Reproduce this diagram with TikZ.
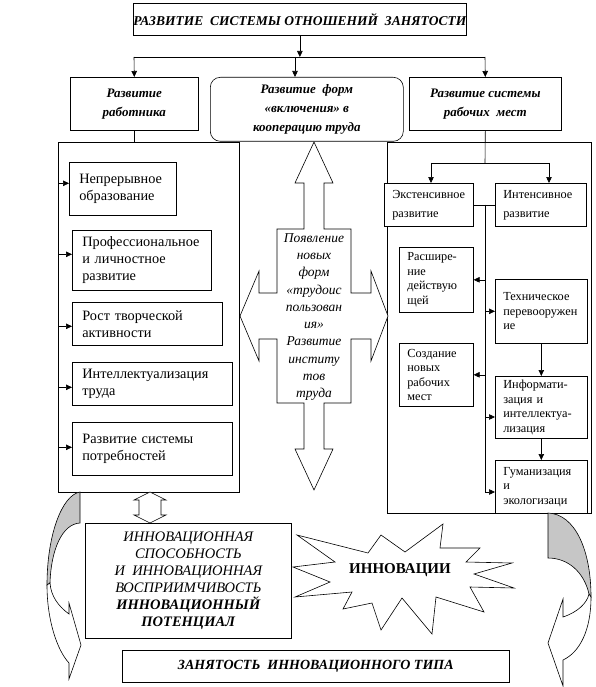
\documentclass[tikz,border=0pt]{standalone}
\usepackage{fontspec}
\setmainfont{Liberation Serif}
\usetikzlibrary{arrows.meta,calc}
\hyphenpenalty=10000
\exhyphenpenalty=10000
\newcommand{\fTtl}{\fontsize{13.5}{17}\selectfont\bfseries\itshape}
\newcommand{\fBot}{\fontsize{14}{17}\selectfont\bfseries\itshape}
\newcommand{\fHdr}{\fontsize{13}{19}\selectfont\bfseries\itshape}
\newcommand{\fLft}{\fontsize{14.3}{17}\selectfont}
\newcommand{\fRgt}{\fontsize{12.3}{14.5}\selectfont}
\newcommand{\fRgh}{\fontsize{12.3}{19}\selectfont}
\newcommand{\fCrs}{\fontsize{13.5}{17.3}\selectfont\itshape}
\newcommand{\fInn}{\fontsize{14.5}{17}\selectfont\itshape}
\newcommand{\fStr}{\fontsize{15}{18}\selectfont\bfseries}
\begin{document}
\begin{tikzpicture}[x=1pt,y=-1pt,line width=0.6pt,
  frame/.style={draw, anchor=north west, inner sep=0pt},
  cbox/.style={draw, fill=white, anchor=north west, align=center, inner sep=0pt},
  lbox/.style={draw, fill=white, anchor=north west, align=left, inner xsep=10pt, inner ysep=0pt},
  rbox/.style={draw, fill=white, anchor=north west, align=left, inner xsep=8pt, inner ysep=0pt},
  arr/.style={-{Triangle[length=6pt,width=5.5pt]}},
  blk/.style={draw, fill=white, line join=miter},
  shade/.style={draw, fill=gray!45}]
\useasboundingbox (0,0) rectangle (595,687);

% frames
\node[frame, minimum width=181pt, minimum height=350pt] (lf) at (58,142) {};
\node[frame, minimum width=204pt, minimum height=371pt] (rf) at (387,142) {};

% top
\node[cbox, minimum width=329pt, minimum height=32pt, font=\fTtl] (title) at (133,3) {РАЗВИТИЕ~ СИСТЕМЫ ОТНОШЕНИЙ~ ЗАНЯТОСТИ};
\node[cbox, minimum width=128pt, minimum height=53pt, font=\fHdr] (worker) at (70,77) {Развитие\\работника};
\node[cbox, minimum width=193pt, minimum height=64pt, rounded corners=10pt, font=\fHdr] (forms) at (210,77) {Развитие~ форм\\«включения» в\\кооперацию труда};
\node[cbox, minimum width=152pt, minimum height=53pt, font=\fHdr] (places) at (409,77) {Развитие системы\\рабочих~ мест};

\coordinate (hl) at (134,57);
\coordinate (hr) at (485,57);
\coordinate (hc) at (295,57);
\draw[arr] (title.south) -- (title.south |- hl);
\draw (hl) -- (hr);
\draw[arr] (hl) -- (worker.north);
\draw[arr] (hc) -- (hc |- forms.north);
\draw[arr] (hr) -- (places.north);
\draw (worker.south) -- (worker.south |- lf.north);

% left frame boxes
\node[lbox, text width=87pt, minimum height=53pt, font=\fLft] (L1) at (69,162) {Непрерывное\\образование};
\node[lbox, text width=119pt, minimum height=60pt, font=\fLft] (L2) at (72,230) {Профессиональное\\и личностное\\развитие};
\node[lbox, text width=130pt, minimum height=43pt, font=\fLft] (L3) at (72,302) {Рост творческой\\активности};
\node[lbox, text width=140pt, minimum height=43pt, font=\fLft] (L4) at (72,362) {Интеллектуализация\\труда};
\node[lbox, text width=140pt, minimum height=53pt, font=\fLft] (L5) at (72,422) {Развитие системы\\потребностей};
\draw[arr] (lf.west |- {$(L1.west)+(0,-5.5)$}) -- ($(L1.west)+(0,-5.5)$);
\draw[arr] (lf.west |- {$(L2.west)+(0,-6)$}) -- ($(L2.west)+(0,-6)$);
\draw[arr] (lf.west |- {$(L3.west)+(0,2.5)$}) -- ($(L3.west)+(0,2.5)$);
\draw[arr] (lf.west |- {$(L4.west)+(0,3.5)$}) -- ($(L4.west)+(0,3.5)$);
\draw[arr] (lf.west |- {$(L5.west)+(0,-1.5)$}) -- ($(L5.west)+(0,-1.5)$);

% cross arrow
\draw[blk] (314,142) -- (333,183) -- (324,183) -- (324,229) -- (351,229) -- (351,293)
  -- (371,293) -- (371,271) -- (388,316) -- (371,361) -- (371,339) -- (351,339)
  -- (351,403) -- (324,403) -- (324,449) -- (333,449) -- (314,490) -- (295,449)
  -- (304,449) -- (304,403) -- (277,403) -- (277,339) -- (259,339) -- (259,361)
  -- (240,316) -- (259,271) -- (259,293) -- (277,293) -- (277,229) -- (304,229)
  -- (304,183) -- (295,183) -- cycle;
\node[align=center, font=\fCrs, inner sep=0pt] (cross) at (314,317) {Появление\\новых\\форм\\«трудоис\\пользован\\ия»\\Развитие\\институ\\тов\\труда};

% right frame
\coordinate (rs) at (485,163);
\coordinate (rsl) at (431,163);
\coordinate (rsr) at (549,163);
\draw (places.south) -- (rs);
\draw (rsl) -- (rsr);
\node[rbox, text width=73pt, minimum height=43pt, font=\fRgh] (ext) at (384,183) {Экстенсивное\\развитие};
\node[rbox, text width=75pt, minimum height=43pt, font=\fRgh] (int) at (495,183) {Интенсивное\\развитие};
\draw[arr] (rsl) -- (rsl |- ext.north);
\draw[arr] (rsr) -- (rsr |- int.north);
\node[rbox, text width=58pt, minimum height=65pt, font=\fRgt] (ras) at (399,247) {Расшире-\\ние\\действую\\щей};
\node[rbox, text width=76pt, minimum height=64pt, font=\fRgt] (tech) at (495,279) {Техническое\\перевооружен\\ие};
\node[rbox, text width=58pt, minimum height=63pt, font=\fRgt] (soz) at (399,343) {Создание\\новых\\рабочих\\мест};
\node[rbox, text width=76pt, minimum height=62pt, font=\fRgt] (inf) at (495,376) {Информати-\\зация и\\интеллектуа-\\лизация};
\node[rbox, text width=76pt, minimum height=53pt, font=\fRgt] (gum) at (495,460) {Гуманизация\\и\\экологизаци};
\coordinate (sp1) at (485,204.5);
\coordinate (sp2) at (485,492);
\coordinate (spinf) at (485,417);
\draw (ext.east) -- (int.west);
\draw (sp1) -- (sp2);
\draw[arr] (sp1 |- ras.east) -- (ras.east);
\draw[arr] (sp1 |- tech.west) -- (tech.west);
\draw[arr] (sp1 |- soz.east) -- (soz.east);
\draw[arr] (spinf) -- (spinf -| inf.west);
\draw[arr] (sp2) -- (sp2 -| gum.west);
\draw[arr] (tech.south) -- (inf.north);
\draw[arr] (inf.south) -- (gum.north);

% double arrow
\draw[blk] (150,492) -- (166,500) -- (161,500) -- (161,515) -- (166,515) -- (150,523)
  -- (134,515) -- (139,515) -- (139,500) -- (134,500) -- cycle;

% innovation box
\node[cbox, minimum width=206pt, minimum height=115pt, font=\fInn] (inno) at (85,523)
  {ИННОВАЦИОННАЯ\\СПОСОБНОСТЬ\\И~ ИННОВАЦИОННАЯ\\ВОСПРИИМЧИВОСТЬ\\{\bfseries ИННОВАЦИОННЫЙ}\\{\bfseries ПОТЕНЦИАЛ}};

% star
\draw[blk] (297,535) -- (368,553) -- (381,535) -- (405,552) -- (443,524) -- (440,548)
  -- (480,548) -- (466,562) -- (512,563) -- (474,574) -- (514,588) -- (470,587)
  -- (484,612) -- (436,597) -- (432,634) -- (402,598) -- (381,630) -- (372,603)
  -- (343,609) -- (352,592) -- (295,597) -- (330,582) -- (293,567) -- (335,562) -- cycle;
\node[font=\fStr, inner sep=0pt] (innov) at (400,570) {ИННОВАЦИИ};

% bottom box
\node[cbox, minimum width=387pt, minimum height=32pt, font=\fBot] (bottom) at (122,650) {ЗАНЯТОСТЬ~ ИННОВАЦИОННОГО ТИПА};

% curved arrows
\draw[shade] (80,492) .. controls (62,495) and (47,535) .. (47,585)
  -- (50,583) .. controls (51,550) and (62,524) .. (80,523) -- cycle;
\draw[blk] (47,585) .. controls (47,620) and (57,650) .. (69,663) -- (69,679) -- (81,645)
  -- (69,603) -- (69,614) .. controls (58,606) and (51,596) .. (50,583) -- cycle;
\draw[shade] (548,513) .. controls (575,514) and (591,550) .. (591,597)
  -- (589,594) .. controls (584,572) and (568,558) .. (548,558) -- cycle;
\draw[blk] (591,597) .. controls (591,630) and (580,652) .. (563,660) -- (563,686) -- (548,643)
  -- (563,599) -- (563,617) .. controls (578,612) and (587,603) .. (589,594) -- cycle;
\end{tikzpicture}
\end{document}
